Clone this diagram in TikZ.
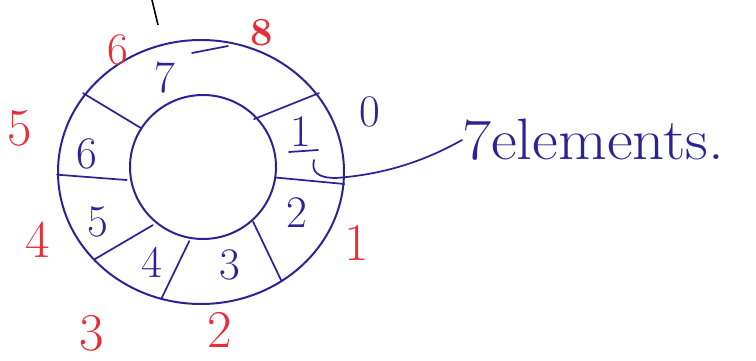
\documentclass[tikz,border=0pt]{standalone}
\usepackage{xcolor}
\usepackage{tikz}
\usetikzlibrary{calc}
\definecolor{inkblue}{RGB}{44,34,150}
\definecolor{inkred}{RGB}{232,44,56}
\tikzset{
  rbring/.style={line width=1.5pt, draw=inkblue},
  rbspoke/.style={line width=1.3pt, draw=inkblue, line cap=round},
  rbslot/.style={text=inkblue, font=\fontsize{34}{36}\selectfont, inner sep=0pt},
  rbidx/.style={text=inkred, font=\fontsize{40}{42}\selectfont, inner sep=0pt},
  rblink/.style={line width=1.3pt, draw=inkblue, line cap=round},
}

\begin{document}
\begin{tikzpicture}[x=0.02646cm, y=-0.02646cm]
\useasboundingbox (0,0) rectangle (756,361);
% ring
\draw[rbring] (201,172) ellipse (143 and 132);
\draw[rbring] (203,167) ellipse (73 and 72);
\coordinate (rc) at (201,170);
% spokes: inner angle / outer angle
\foreach \ia/\oa [count=\k] in {-45/-35, 6/6, 46/56, 99/106, 130/138, 172/178, 216/215}{
  \coordinate (in\k) at ($(rc)+(\ia:75 and 72)$);
  \coordinate (out\k) at ($(rc)+(\oa:144 and 134)$);
  \draw[rbspoke] (in\k) -- (out\k);
}
\draw[rbspoke] (192,53) -- (228,46);
\draw[line width=1.2pt] (152,0) -- (158,25);
% slot numbers
\node[rbslot] (s7) at (165,78) {7};
\node[rbslot] (s1) at (301,132) {1};
\draw[rbspoke] (289,152) -- (318,150);
\node[rbslot] (s2) at (297,213) {2};
\node[rbslot] (s3) at (230,265) {3};
\node[rbslot] (s4) at (152,262) {4};
\node[rbslot] (s5) at (98,222) {5};
\node[rbslot] (s6) at (87,154) {6};
% indices
\node[rbslot] (i0) at (370,112) {0};
\node[rbidx] (i1) at (357,243) {1};
\node[rbidx] (i2) at (220,330) {2};
\node[rbidx] (i3) at (92,333) {3};
\node[rbidx] (i4) at (38,240) {4};
\node[rbidx] (i5) at (20,128) {5};
\node[rbidx, font=\fontsize{34}{36}\selectfont] (i6) at (118,50) {6};
\node[rbidx, font=\bfseries\fontsize{30}{32}\selectfont] (i8) at (262,33) {8};
% label
\node[rbslot, anchor=west, xscale=1.08, font=\fontsize{44}{46}\selectfont] (txt) at (462,140) {7elements.};
\coordinate (hk) at (314,160);
\draw[rblink] (hk) .. controls (311,172) and (318,178) .. (336,178)
  .. controls (390,174) and (430,158) .. (txt.west);
\end{tikzpicture}
\end{document}
